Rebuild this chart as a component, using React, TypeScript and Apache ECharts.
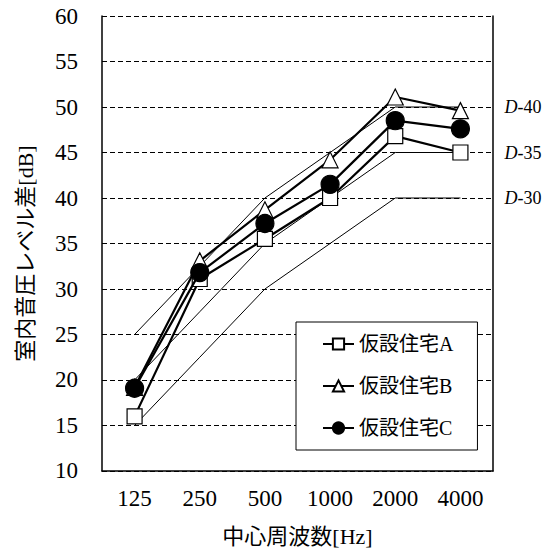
import React, { useEffect, useRef } from "react";
import * as echarts from "echarts";

const freqs = ["125", "250", "500", "1000", "2000", "4000"];
const yTicks = { min: 10, max: 60, interval: 5 };

const houseA = [16, 31.1, 35.5, 40, 46.8, 45];
const houseB = [19.2, 33.1, 38.7, 44.2, 51.1, 49.6];
const houseC = [19.1, 31.8, 37.2, 41.5, 48.5, 47.6];

const d30 = [15, 22.5, 30, 35, 40, 40];
const d35 = [20, 27.5, 35, 40, 45, 45];
const d40 = [25, 32.5, 40, 45, 50, 50];

const houseNames = ["仮設住宅A", "仮設住宅B", "仮設住宅C"];
const dCurves = [
  { grade: "30", data: d30 },
  { grade: "35", data: d35 },
  { grade: "40", data: d40 },
];

const FONT = "'Liberation Serif', 'Noto Sans CJK JP', serif";

export default function App() {
  const ref = useRef<HTMLDivElement>(null);
  useEffect(() => {
    if (!ref.current) return;
    const chart = echarts.init(ref.current, null, { renderer: "svg" });
    const dSeries = dCurves.map((d) => ({
      type: "line",
      name: "D-" + d.grade,
      data: d.data,
      symbol: "none",
      silent: true,
      z: 1,
      lineStyle: { color: "#000", width: 1 },
      endLabel: {
        show: true,
        distance: 44,
        formatter: () => "{i|D}-" + d.grade,
        color: "#000",
        fontFamily: FONT,
        fontSize: 18,
        rich: { i: { fontStyle: "italic", fontFamily: FONT, fontSize: 18, color: "#000" } },
      },
    }));
    const mk = (name: string, data: number[], symbol: string, size: number, fill: string, z: number) => ({
      type: "line",
      name,
      data,
      symbol,
      symbolSize: size,
      showAllSymbol: true,
      z,
      lineStyle: { color: "#000", width: 2.2 },
      itemStyle: { color: fill, borderColor: "#000", borderWidth: 1.2 },
    });
    chart.setOption({
      animation: false,
      backgroundColor: "#fff",
      textStyle: { fontFamily: FONT, color: "#000" },
      grid: { left: 102, right: 59, top: 16, bottom: 80 },
      legend: {
        data: houseNames,
        orient: "vertical",
        left: 296,
        top: 322,
        backgroundColor: "#fff",
        borderColor: "#000",
        borderWidth: 1,
        borderRadius: 0,
        padding: [12, 24, 12, 26],
        itemGap: 22,
        itemWidth: 31,
        itemHeight: 14,
        z: 10,
        textStyle: { fontFamily: FONT, fontSize: 20, lineHeight: 20, color: "#000" },
      },
      xAxis: {
        type: "category",
        data: freqs,
        boundaryGap: true,
        name: "中心周波数[Hz]",
        nameLocation: "middle",
        nameGap: 54,
        nameTextStyle: { fontFamily: FONT, fontSize: 22, color: "#000" },
        axisLine: { lineStyle: { color: "#000", width: 1.5 } },
        axisTick: { alignWithLabel: true, inside: true, length: 5, lineStyle: { color: "#000" } },
        axisLabel: { fontFamily: FONT, fontSize: 23, color: "#000", margin: 16 },
        splitLine: { show: false },
      },
      yAxis: [
        {
          type: "value",
          min: yTicks.min,
          max: yTicks.max,
          interval: yTicks.interval,
          name: "室内音圧レベル差[dB]",
          nameLocation: "middle",
          nameGap: 66,
          nameTextStyle: { fontFamily: FONT, fontSize: 22, color: "#000", padding: [0, 20, 0, 0] },
          axisLine: { show: true, lineStyle: { color: "#000", width: 1.5 } },
          axisTick: { show: true, inside: true, length: 5, lineStyle: { color: "#000" } },
          axisLabel: { fontFamily: FONT, fontSize: 23, color: "#000", margin: 24 },
          splitLine: { show: true, lineStyle: { color: "#000", width: 1, type: [5, 3] } },
        },
        {
          type: "value",
          position: "right",
          min: yTicks.min,
          max: yTicks.max,
          interval: yTicks.interval,
          axisLine: { show: true, lineStyle: { color: "#000", width: 1.5 } },
          axisTick: { show: false },
          axisLabel: { show: false },
          splitLine: { show: false },
        },
      ],
      series: [
        ...dSeries,
        mk(houseNames[0], houseA, "rect", 15, "#fff", 3),
        mk(houseNames[1], houseB, "triangle", 16, "#fff", 4),
        mk(houseNames[2], houseC, "circle", 18, "#000", 5),
      ],
    });
    return () => chart.dispose();
  }, []);
  return <div ref={ref} style={{ position: "fixed", left: 0, top: 0, width: 552, height: 552 }} />;
}
